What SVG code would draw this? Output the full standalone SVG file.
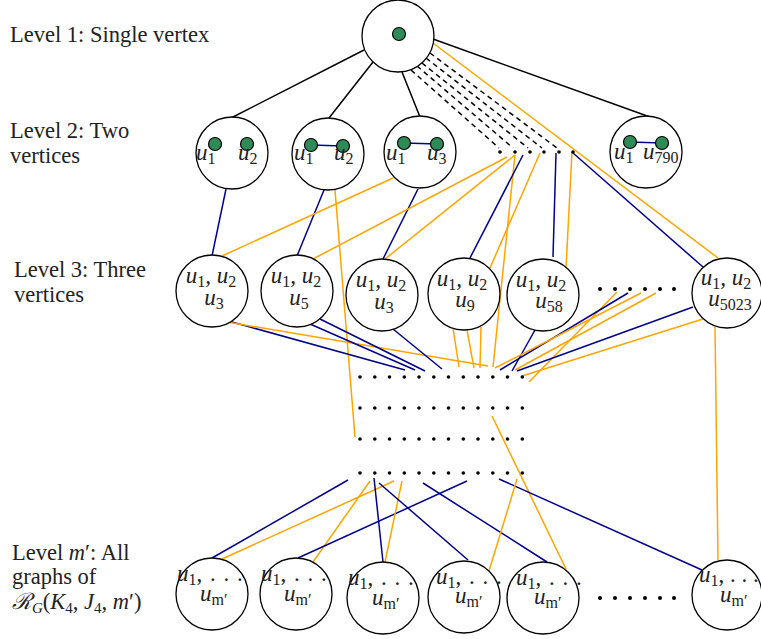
<svg xmlns="http://www.w3.org/2000/svg" width="761" height="639" viewBox="0 0 761 639">
<style>
.lbl{font-family:"Liberation Serif","DejaVu Serif",serif;font-size:22.5px;fill:#222}
.m{font-family:"Liberation Serif","DejaVu Serif",serif;font-size:23px;font-style:italic;fill:#222}
.s{font-size:16px;font-style:normal}
.dd{font-style:normal;letter-spacing:1px}
.node{fill:#fff;stroke:#000;stroke-width:1.3}
.g{fill:#2e8b57;stroke:#000;stroke-width:1.2}
.k{stroke:#000;stroke-width:1.5;fill:none}
.kd{stroke:#000;stroke-width:1.5;fill:none;stroke-dasharray:5,4}
.b{stroke:#00008b;stroke-width:1.5;fill:none}
.o{stroke:#ffa500;stroke-width:1.5;fill:none}
.d{fill:#000}
</style>
<rect width="761" height="639" fill="#fff"/>
<g id="labels">
<text class="lbl" x="10" y="42">Level 1: Single vertex</text>
<text class="lbl" x="10" y="138">Level 2: Two</text>
<text class="lbl" x="10" y="163">vertices</text>
<text class="lbl" x="14" y="277">Level 3: Three</text>
<text class="lbl" x="14" y="302">vertices</text>
<text class="lbl" x="12" y="560">Level <tspan font-style="italic">m</tspan>′: All</text>
<text class="lbl" x="12" y="584">graphs of</text>
<text class="lbl" x="12" y="609"><tspan font-style="italic">ℛ</tspan><tspan font-size="15" font-style="italic" dy="4">G</tspan><tspan dy="-4">(</tspan><tspan font-style="italic">K</tspan><tspan font-size="15" dy="4">4</tspan><tspan dy="-4">, </tspan><tspan font-style="italic">J</tspan><tspan font-size="15" dy="4">4</tspan><tspan dy="-4">, </tspan><tspan font-style="italic">m</tspan>′)</text>
</g>
<g id="connectors">
<line class="k" x1="364" y1="50" x2="231" y2="118"/>
<line class="k" x1="373" y1="62" x2="329" y2="118"/>
<line class="k" x1="402" y1="72" x2="420" y2="117"/>
<line class="k" x1="433" y1="39" x2="650" y2="117"/>
<line class="kd" x1="411" y1="70" x2="499" y2="148"/>
<line class="kd" x1="417" y1="66" x2="513" y2="148"/>
<line class="kd" x1="422" y1="63" x2="528" y2="148"/>
<line class="kd" x1="426" y1="58" x2="542" y2="148"/>
<line class="kd" x1="430" y1="53" x2="557" y2="148"/>
<line class="o" x1="433" y1="43" x2="718" y2="258"/>
<line class="b" x1="226" y1="189" x2="212" y2="256"/>
<line class="b" x1="324" y1="190" x2="297" y2="256"/>
<line class="b" x1="418" y1="189" x2="383" y2="259"/>
<line class="o" x1="393" y1="178" x2="222" y2="256"/>
<line class="o" x1="335" y1="190" x2="355" y2="437"/>
<line class="o" x1="507" y1="157" x2="313" y2="259"/>
<line class="o" x1="515" y1="155" x2="385" y2="259"/>
<line class="o" x1="515" y1="155" x2="493" y2="367"/>
<line class="b" x1="523" y1="155" x2="470" y2="258"/>
<line class="o" x1="540" y1="153" x2="490" y2="268"/>
<line class="b" x1="556" y1="153" x2="553" y2="257"/>
<line class="o" x1="572" y1="152" x2="566" y2="268"/>
<line class="b" x1="573" y1="153" x2="703" y2="267"/>
<line class="b" x1="232" y1="322" x2="405" y2="370"/>
<line class="o" x1="227" y1="322" x2="488" y2="366"/>
<line class="b" x1="310" y1="324" x2="415" y2="370"/>
<line class="b" x1="320" y1="319" x2="425" y2="371"/>
<line class="b" x1="393" y1="329" x2="442" y2="369"/>
<line class="o" x1="453" y1="328" x2="459" y2="367"/>
<line class="o" x1="467" y1="330" x2="474" y2="368"/>
<line class="o" x1="481" y1="327" x2="480" y2="368"/>
<line class="b" x1="535" y1="330" x2="512" y2="371"/>
<line class="o" x1="617" y1="292" x2="529" y2="382"/>
<line class="b" x1="628" y1="293" x2="500" y2="370"/>
<line class="o" x1="641" y1="293" x2="495" y2="368"/>
<line class="o" x1="656" y1="293" x2="515" y2="370"/>
<line class="b" x1="693" y1="307" x2="517" y2="371"/>
<line class="o" x1="703" y1="319" x2="522" y2="376"/>
<line class="o" x1="715" y1="327" x2="718" y2="560"/>
<line class="o" x1="492" y1="416" x2="566" y2="569"/>
<line class="b" x1="348" y1="480" x2="212" y2="558"/>
<line class="o" x1="394" y1="481" x2="222" y2="559"/>
<line class="o" x1="370" y1="481" x2="313" y2="562"/>
<line class="b" x1="467" y1="481" x2="298" y2="558"/>
<line class="b" x1="374" y1="478" x2="383" y2="562"/>
<line class="o" x1="402" y1="481" x2="385" y2="562"/>
<line class="b" x1="379" y1="483" x2="468" y2="560"/>
<line class="b" x1="423" y1="483" x2="547" y2="562"/>
<line class="b" x1="499" y1="479" x2="702" y2="570"/>
<line class="o" x1="517" y1="479" x2="489" y2="571"/>
</g>
<g id="dots">
<g class="d">
<circle cx="500" cy="152" r="1.8"/><circle cx="515" cy="152" r="1.8"/><circle cx="530" cy="152" r="1.8"/><circle cx="544" cy="152" r="1.8"/><circle cx="559" cy="152" r="1.8"/><circle cx="573" cy="152" r="1.8"/>
<circle cx="600" cy="289" r="2"/><circle cx="615" cy="289" r="2"/><circle cx="630" cy="289" r="2"/><circle cx="645" cy="289" r="2"/><circle cx="660" cy="289" r="2"/><circle cx="674" cy="289" r="2"/>
<circle cx="600" cy="598" r="2"/><circle cx="615" cy="598" r="2"/><circle cx="630" cy="598" r="2"/><circle cx="645" cy="598" r="2"/><circle cx="660" cy="598" r="2"/><circle cx="674" cy="598" r="2"/>
</g>
<g class="d" id="row1">
<circle cx="360" cy="377" r="1.8"/><circle cx="374.8" cy="377" r="1.8"/><circle cx="389.5" cy="377" r="1.8"/><circle cx="404.3" cy="377" r="1.8"/><circle cx="419" cy="377" r="1.8"/><circle cx="433.8" cy="377" r="1.8"/><circle cx="448.5" cy="377" r="1.8"/><circle cx="463.3" cy="377" r="1.8"/><circle cx="478" cy="377" r="1.8"/><circle cx="492.8" cy="377" r="1.8"/><circle cx="507.5" cy="377" r="1.8"/><circle cx="522.3" cy="377" r="1.8"/>
</g>
<use href="#row1" y="31"/>
<use href="#row1" y="62"/>
<use href="#row1" y="96"/>
</g>
<g id="n-top"><circle class="node" cx="398" cy="36" r="36"/><circle class="g" cx="399" cy="34" r="6.5"/></g>
<g id="n2-a"><circle class="node" cx="232" cy="153" r="36"/><circle class="g" cx="215" cy="144" r="6.5"/><circle class="g" cx="247" cy="144" r="6.5"/>
<text class="m" x="196" y="160">u<tspan class="s" dy="4">1</tspan></text><text class="m" x="238" y="160">u<tspan class="s" dy="4">2</tspan></text></g>
<g id="n2-b"><circle class="node" cx="328" cy="154" r="36"/><line class="b" x1="311" y1="145" x2="343" y2="146"/><circle class="g" cx="311" cy="145" r="6.5"/><circle class="g" cx="343" cy="146" r="6.5"/>
<text class="m" x="294" y="160">u<tspan class="s" dy="4">1</tspan></text><text class="m" x="334" y="160">u<tspan class="s" dy="4">2</tspan></text></g>
<g id="n2-c"><circle class="node" cx="420" cy="152" r="36"/><line class="b" x1="404" y1="143" x2="437" y2="144"/><circle class="g" cx="404" cy="143" r="6.5"/><circle class="g" cx="437" cy="144" r="6.5"/>
<text class="m" x="386" y="160">u<tspan class="s" dy="4">1</tspan></text><text class="m" x="427" y="160">u<tspan class="s" dy="4">3</tspan></text></g>
<g id="n2-d"><circle class="node" cx="646" cy="152" r="36"/><line class="b" x1="630" y1="142" x2="662" y2="143"/><circle class="g" cx="630" cy="142" r="6.5"/><circle class="g" cx="662" cy="143" r="6.5"/>
<text class="m" x="614" y="159">u<tspan class="s" dy="4">1</tspan></text><text class="m" x="643" y="159">u<tspan class="s" dy="4">790</tspan></text></g>
<g id="n3-1"><circle class="node" cx="212" cy="291" r="36"/>
<text class="m" x="211" y="283" text-anchor="middle">u<tspan class="s" dy="4">1</tspan><tspan dy="-4">, u</tspan><tspan class="s" dy="4">2</tspan></text>
<text class="m" x="214" y="305" text-anchor="middle">u<tspan class="s" dy="4">3</tspan></text></g>
<g id="n3-2"><circle class="node" cx="297" cy="291" r="36"/>
<text class="m" x="296" y="283" text-anchor="middle">u<tspan class="s" dy="4">1</tspan><tspan dy="-4">, u</tspan><tspan class="s" dy="4">2</tspan></text>
<text class="m" x="299" y="305" text-anchor="middle">u<tspan class="s" dy="4">5</tspan></text></g>
<g id="n3-3"><circle class="node" cx="382" cy="295" r="36"/>
<text class="m" x="381" y="287" text-anchor="middle">u<tspan class="s" dy="4">1</tspan><tspan dy="-4">, u</tspan><tspan class="s" dy="4">2</tspan></text>
<text class="m" x="384" y="309" text-anchor="middle">u<tspan class="s" dy="4">3</tspan></text></g>
<g id="n3-4"><circle class="node" cx="464" cy="294" r="36"/>
<text class="m" x="462" y="286" text-anchor="middle">u<tspan class="s" dy="4">1</tspan><tspan dy="-4">, u</tspan><tspan class="s" dy="4">2</tspan></text>
<text class="m" x="465" y="307" text-anchor="middle">u<tspan class="s" dy="4">9</tspan></text></g>
<g id="n3-5"><circle class="node" cx="543" cy="295" r="36"/>
<text class="m" x="541" y="287" text-anchor="middle">u<tspan class="s" dy="4">1</tspan><tspan dy="-4">, u</tspan><tspan class="s" dy="4">2</tspan></text>
<text class="m" x="549" y="308" text-anchor="middle">u<tspan class="s" dy="4">58</tspan></text></g>
<g id="n3-6"><circle class="node" cx="727" cy="293" r="35"/>
<text class="m" x="726" y="285" text-anchor="middle">u<tspan class="s" dy="4">1</tspan><tspan dy="-4">, u</tspan><tspan class="s" dy="4">2</tspan></text>
<text class="m" x="730" y="306" text-anchor="middle">u<tspan class="s" dy="4">5023</tspan></text></g>
<g id="nm-1"><circle class="node" cx="212" cy="594" r="36"/>
<text class="m" x="177" y="581">u<tspan class="s" dy="4">1</tspan><tspan class="dd" dy="-4">, . . .</tspan></text>
<text class="m" x="200" y="601">u<tspan class="s" dy="4" font-style="italic">m′</tspan></text></g>
<g id="nm-2"><circle class="node" cx="296" cy="594" r="36"/>
<text class="m" x="261" y="581">u<tspan class="s" dy="4">1</tspan><tspan class="dd" dy="-4">, . . .</tspan></text>
<text class="m" x="284" y="601">u<tspan class="s" dy="4" font-style="italic">m′</tspan></text></g>
<g id="nm-3"><circle class="node" cx="383" cy="598" r="36"/>
<text class="m" x="348" y="585">u<tspan class="s" dy="4">1</tspan><tspan class="dd" dy="-4">, . . .</tspan></text>
<text class="m" x="372" y="605">u<tspan class="s" dy="4" font-style="italic">m′</tspan></text></g>
<g id="nm-4"><circle class="node" cx="464" cy="597" r="36"/>
<text class="m" x="436" y="584">u<tspan class="s" dy="4">1</tspan><tspan class="dd" dy="-4">, . . .</tspan></text>
<text class="m" x="455" y="603">u<tspan class="s" dy="4" font-style="italic">m′</tspan></text></g>
<g id="nm-5"><circle class="node" cx="543" cy="598" r="36"/>
<text class="m" x="516" y="585">u<tspan class="s" dy="4">1</tspan><tspan class="dd" dy="-4">, . . .</tspan></text>
<text class="m" x="534" y="604">u<tspan class="s" dy="4" font-style="italic">m′</tspan></text></g>
<g id="nm-6"><circle class="node" cx="727" cy="595" r="35"/>
<text class="m" x="699" y="582">u<tspan class="s" dy="4">1</tspan><tspan dy="-4" font-style="normal">, . . .</tspan></text>
<text class="m" x="720" y="602">u<tspan class="s" dy="4" font-style="italic">m′</tspan></text></g>
</svg>
